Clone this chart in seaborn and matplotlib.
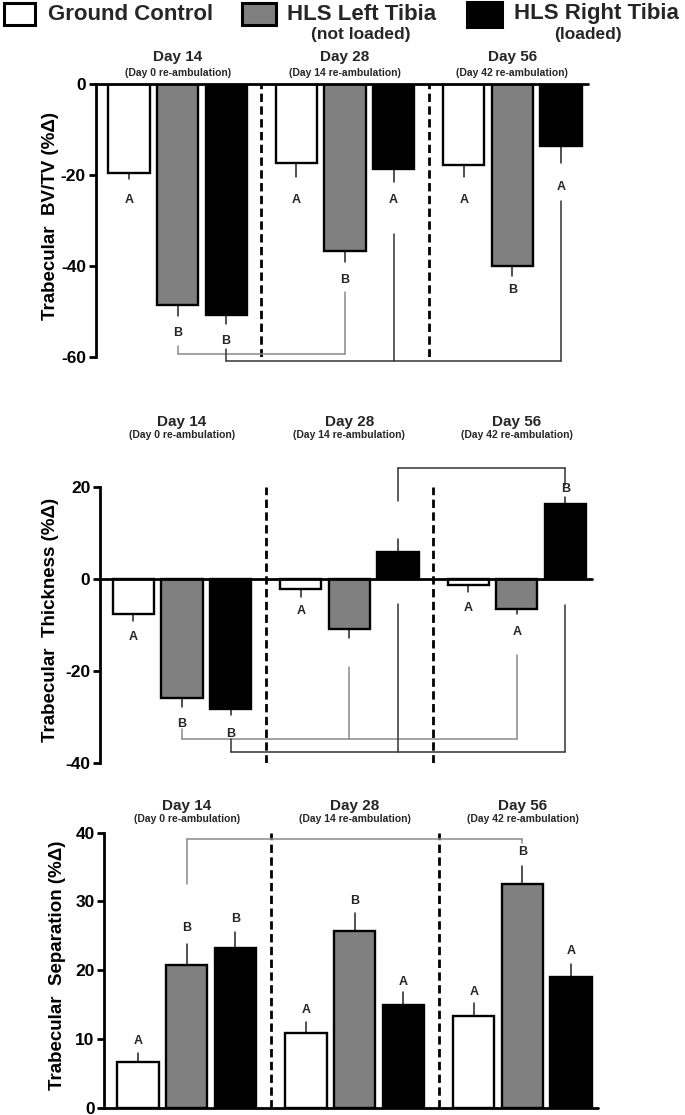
import numpy as np
import pandas as pd
import matplotlib
matplotlib.use("Agg")
import matplotlib.pyplot as plt
import seaborn as sns
from matplotlib.patches import Rectangle
from matplotlib.transforms import blended_transform_factory

days = ["Day 14", "Day 28", "Day 56"]
day_notes = ["(Day 0 re-ambulation)", "(Day 14 re-ambulation)", "(Day 42 re-ambulation)"]
groups = ["Ground Control", "HLS Left Tibia", "HLS Right Tibia"]

# Trabecular BV/TV (%change), one list per group across the three days
bvtv_gc = [-19.5, -17.4, -17.9]
bvtv_left = [-48.6, -36.8, -39.9]
bvtv_right = [-50.7, -18.7, -13.6]
bvtv_gc_sem = [1.4, 3.1, 2.6]
bvtv_left_sem = [2.3, 2.4, 2.4]
bvtv_right_sem = [2.0, 2.8, 3.7]
bvtv_letters = ["A", "A", "A", "B", "B", "B", "B", "A", "A"]
bvtv_letter_y = [-25.6, -25.6, -25.6, -54.7, -43.1, -45.3, -56.4, -25.6, -22.6]

# Trabecular thickness (%change)
tbth_gc = [-7.6, -2.2, -1.2]
tbth_left = [-26.0, -10.9, -6.5]
tbth_right = [-28.4, 6.0, 16.4]
tbth_gc_sem = [1.5, 1.6, 1.6]
tbth_left_sem = [1.9, 1.9, 1.0]
tbth_right_sem = [1.3, 2.7, 1.4]
tbth_letters = ["A", "A", "A", "B", "", "A", "B", "", "B"]
tbth_letter_y = [-12.7, -7.0, -6.2, -31.5, np.nan, -11.6, -33.7, np.nan, 19.6]

# Trabecular separation (%change)
tbsp_gc = [6.6, 10.8, 13.3]
tbsp_left = [20.8, 25.7, 32.6]
tbsp_right = [23.3, 15.0, 19.0]
tbsp_gc_sem = [1.3, 1.6, 1.9]
tbsp_left_sem = [3.0, 2.6, 2.6]
tbsp_right_sem = [2.3, 1.9, 1.9]
tbsp_letters = ["A", "A", "A", "B", "B", "B", "B", "A", "A"]
tbsp_letter_y = [9.7, 14.2, 16.9, 26.2, 30.1, 37.2, 27.4, 18.3, 22.8]

# comparison brackets: (group index, day indices, line ends, bracket level, colour)
bvtv_brackets = [(1, [0, 1], [-57.5, -45.8], -59.4, "#8a8a8a"),
                 (2, [0, 1, 2], [-58.2, -33.0, -25.7], -60.9, "#333333")]
tbth_brackets = [(1, [0, 1, 2], [-32.7, -19.2, -16.6], -34.9, "#8a8a8a"),
                 (2, [0, 1, 2], [-34.8, -5.4, -5.7], -37.6, "#333333"),
                 (2, [1, 2], [17.0, 20.5], 24.1, "#333333")]
tbsp_brackets = [(1, [0, 2], [32.5, 38.5], 39.1, "#8a8a8a")]

palette = {"Ground Control": "white", "HLS Left Tibia": "#808080", "HLS Right Tibia": "black"}

sns.set_theme(style="white")
plt.rcParams["font.family"] = ["Liberation Sans", "DejaVu Sans"]
plt.rcParams["font.weight"] = "bold"
plt.rcParams["axes.labelweight"] = "bold"
plt.rcParams["axes.unicode_minus"] = False

W, H = 685, 1115
fig = plt.figure(figsize=(W / 100, H / 100), dpi=100)


def rect_px(left, right, top, bottom):
    return [left / W, 1 - bottom / H, (right - left) / W, (bottom - top) / H]


panels = [
    dict(means=[bvtv_gc, bvtv_left, bvtv_right],
         sems=[bvtv_gc_sem, bvtv_left_sem, bvtv_right_sem],
         letters=bvtv_letters, letter_y=bvtv_letter_y, brackets=bvtv_brackets,
         ylim=(-60, 0), ticks=[-60, -40, -20, 0], label="Trabecular  BV/TV (%\u0394)",
         rect=rect_px(95.6, 587.7, 84, 357), title_y=(57.5, 73), label_x=-0.074),
    dict(means=[tbth_gc, tbth_left, tbth_right],
         sems=[tbth_gc_sem, tbth_left_sem, tbth_right_sem],
         letters=tbth_letters, letter_y=tbth_letter_y, brackets=tbth_brackets,
         ylim=(-40, 20), ticks=[-40, -20, 0, 20], label="Trabecular  Thickness (%\u0394)",
         rect=rect_px(100, 592, 487.3, 762.7), title_y=(421.7, 435.5), label_x=-0.083),
    dict(means=[tbsp_gc, tbsp_left, tbsp_right],
         sems=[tbsp_gc_sem, tbsp_left_sem, tbsp_right_sem],
         letters=tbsp_letters, letter_y=tbsp_letter_y, brackets=tbsp_brackets,
         ylim=(0, 40), ticks=[0, 10, 20, 30, 40], label="Trabecular  Separation (%\u0394)",
         rect=rect_px(104.4, 598, 832.7, 1107.7), title_y=(805.8, 819.5), label_x=-0.078),
]

for spec in panels:
    ax = fig.add_axes(spec["rect"])
    df = pd.DataFrame({
        "day": days * 3,
        "group": np.repeat(groups, 3),
        "value": sum(spec["means"], []),
    })
    sns.barplot(data=df, x="day", y="value", hue="group", order=days, hue_order=groups,
                palette=palette, edgecolor="black", linewidth=1.7, width=0.87, gap=0.15,
                errorbar=None, legend=False, ax=ax, zorder=3)

    bars = sorted(ax.patches, key=lambda p: p.get_x())
    centers = np.array([p.get_x() + p.get_width() / 2 for p in bars]).reshape(3, 3)

    for gi in range(3):
        for di in range(3):
            m = spec["means"][gi][di]
            e = spec["sems"][gi][di]
            x = centers[di][gi]
            ax.plot([x, x], [m, m + np.sign(m) * e], color="#222222", lw=1.1, zorder=2,
                    clip_on=False)
            k = gi * 3 + di
            if spec["letters"][k]:
                ax.text(x, spec["letter_y"][k], spec["letters"][k], ha="center",
                        va="center", fontsize=9, clip_on=False)

    for gi, dis, ends, level, col in spec["brackets"]:
        xs = [centers[d][gi] for d in dis]
        for x, e in zip(xs, ends):
            ax.plot([x, x], [e, level], color=col, lw=1.1, clip_on=False)
        ax.plot([min(xs), max(xs)], [level, level], color=col, lw=1.1, clip_on=False)

    for xv in [0.5, 1.5]:
        ax.axvline(xv, color="black", lw=2, linestyle=(0, (3, 1.6)), zorder=1)
    ax.axhline(0, color="black", lw=2, zorder=4, clip_on=False)

    ax.set_xlim(-0.49, 2.45)
    ax.set_ylim(*spec["ylim"])
    ax.set_yticks(spec["ticks"])
    ax.set_xticks([])
    ax.set_xlabel("")
    for s in ["top", "right", "bottom"]:
        ax.spines[s].set_visible(False)
    ax.spines["left"].set_linewidth(2)
    ax.spines["left"].set_color("black")
    ax.tick_params(axis="y", direction="out", length=5, width=2, labelsize=12.5, pad=2,
                   left=True, colors="black")
    ax.set_ylabel(spec["label"], fontsize=13.5, color="black", fontweight="bold")
    ax.yaxis.set_label_coords(spec["label_x"], 0.517)

    tr = blended_transform_factory(ax.transData, fig.transFigure)
    ty, ny = spec["title_y"]
    for di, (d, note) in enumerate(zip(days, day_notes)):
        ax.text(di, 1 - ty / H, d, transform=tr, ha="center", va="center", fontsize=11)
        ax.text(di, 1 - ny / H, note, transform=tr, ha="center", va="center", fontsize=7.5)

# legend across the top
box_px = [(4, 35, 3, 25), (242, 276, 3, 25), (467, 502, 2, 27)]
for (x0, x1, y0, y1), g in zip(box_px, groups):
    fig.add_artist(Rectangle((x0 / W, 1 - y1 / H), (x1 - x0) / W, (y1 - y0) / H,
                             facecolor=palette[g], edgecolor="black", lw=2.2,
                             transform=fig.transFigure))
fig.text(48 / W, 1 - 14 / H, "Ground Control", ha="left", va="center", fontsize=16)
fig.text(287 / W, 1 - 14 / H, "HLS Left Tibia", ha="left", va="center", fontsize=16)
fig.text(361 / W, 1 - 34 / H, "(not loaded)", ha="center", va="center", fontsize=12.5)
fig.text(514 / W, 1 - 14 / H, "HLS Right Tibia", ha="left", va="center", fontsize=16)
fig.text(588 / W, 1 - 34 / H, "(loaded)", ha="center", va="center", fontsize=12.5)

fig.savefig("out.png", dpi=100)
